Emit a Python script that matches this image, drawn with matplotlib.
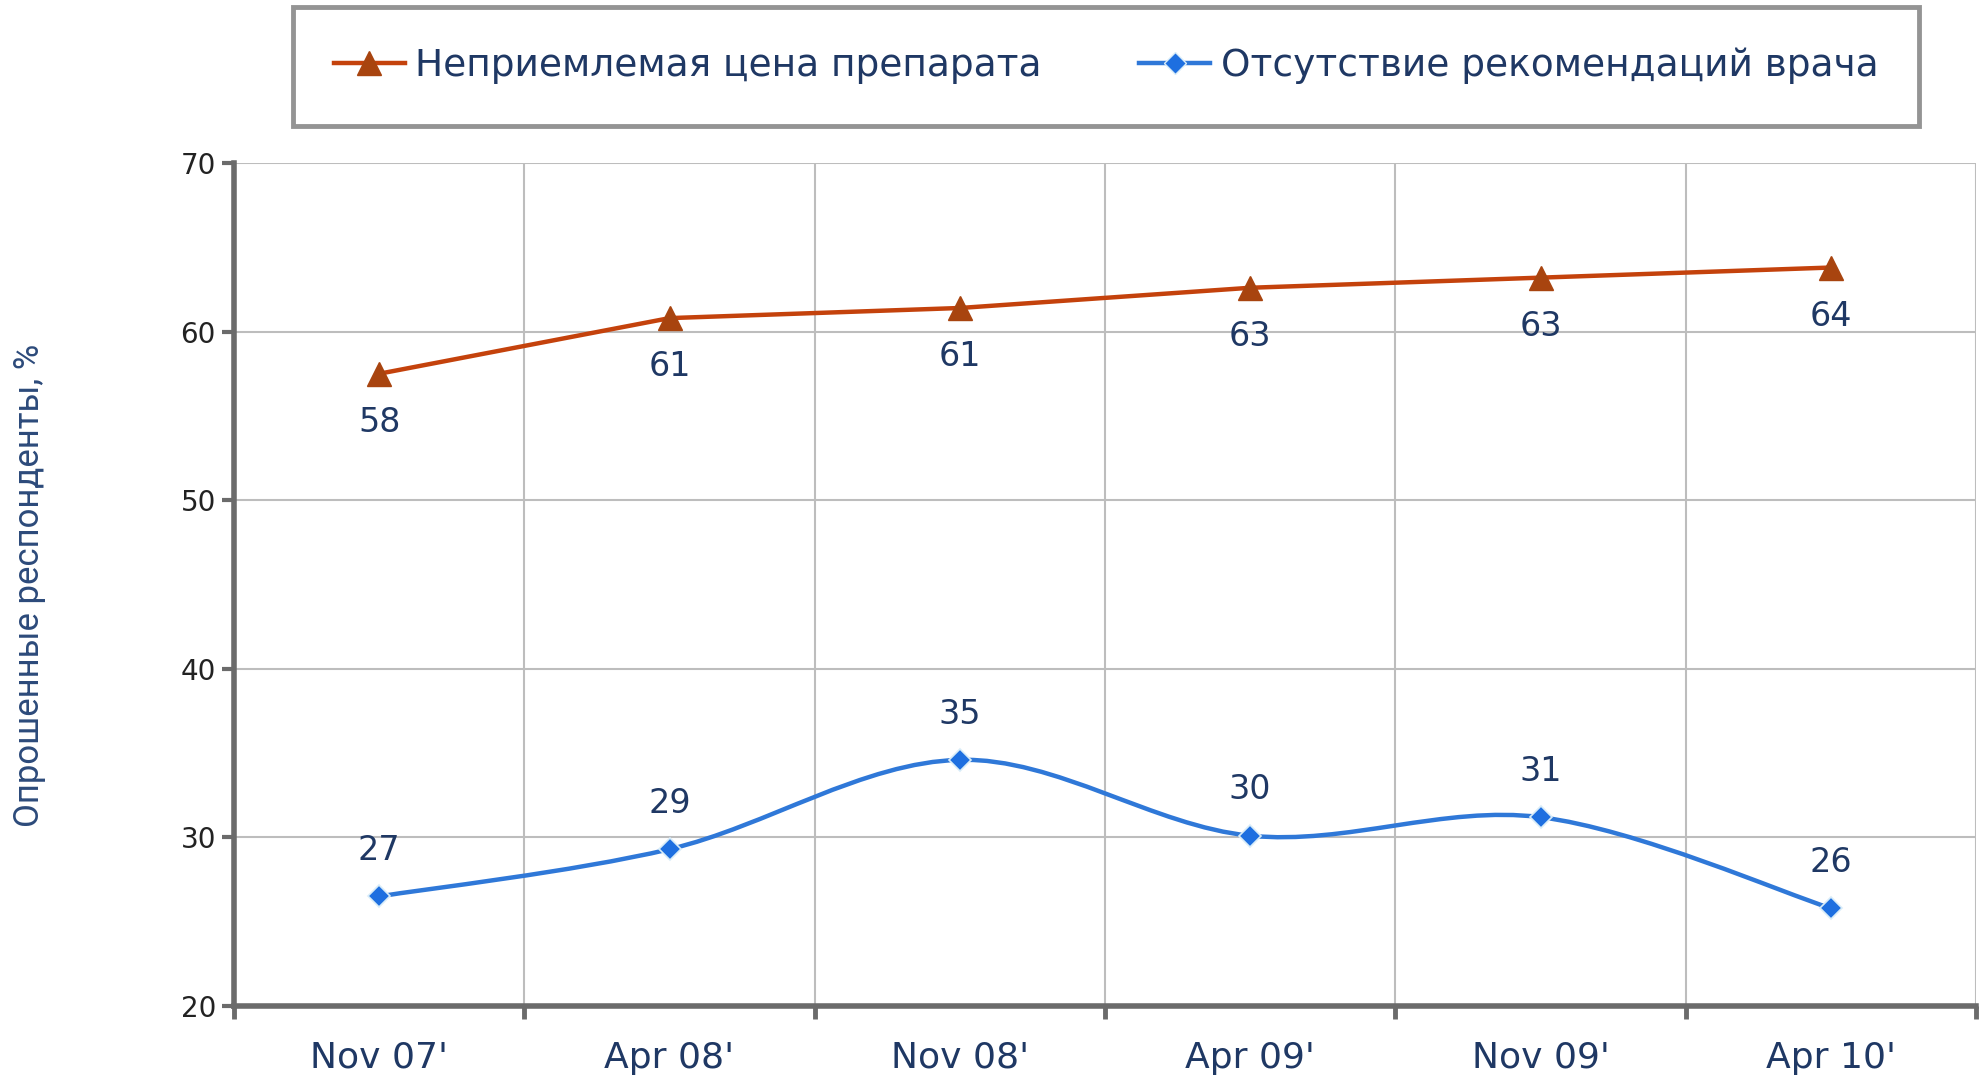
import matplotlib
matplotlib.use("Agg")
import matplotlib.pyplot as plt
from matplotlib.path import Path
from matplotlib.patches import PathPatch
from matplotlib.lines import Line2D
import numpy as np

categories = ["Nov 07'", "Apr 08'", "Nov 08'", "Apr 09'", "Nov 09'", "Apr 10'"]
price_values = [57.5, 60.8, 61.4, 62.6, 63.2, 63.8]
price_labels = ["58", "61", "61", "63", "63", "64"]
doctor_values = [26.5, 29.3, 34.6, 30.1, 31.2, 25.8]
doctor_labels = ["27", "29", "35", "30", "31", "26"]
series_names = ["Неприемлемая цена препарата", "Отсутствие рекомендаций врача"]
y_ticks = [20, 30, 40, 50, 60, 70]
y_label = "Опрошенные респонденты, %"

RED = "#C4420C"
RED_M = "#A8440F"
BLUE = "#2F78D8"
BLUE_M = "#1E6FE0"
NAVY = "#1F3864"
GRID = "#BDBDBD"
SPINE = "#6B6B6B"

plt.rcParams['font.family'] = ['DejaVu Sans']

fig = plt.figure(figsize=(19.84, 10.81), dpi=100)
ax = fig.add_axes([234/1984, 1-1006/1081, (1976-234)/1984, (1006-163)/1081])

x = np.arange(len(categories))

# red straight line
ax.plot(x, price_values, color=RED, lw=3.2, marker='^', markersize=17,
        markerfacecolor=RED_M, markeredgecolor=RED_M, zorder=4, clip_on=False)

# blue smoothed line (bezier through data points)
pts = np.column_stack([x, doctor_values]).astype(float)
verts = [tuple(pts[0])]
codes = [Path.MOVETO]
n = len(pts)
for i in range(n - 1):
    p0 = pts[i - 1] if i > 0 else pts[i]
    p1 = pts[i]
    p2 = pts[i + 1]
    p3 = pts[i + 2] if i + 2 < n else pts[i + 1]
    c1 = p1 + (p2 - p0) / 6.0
    c2 = p2 - (p3 - p1) / 6.0
    verts += [tuple(c1), tuple(c2), tuple(p2)]
    codes += [Path.CURVE4] * 3
ax.add_patch(PathPatch(Path(verts, codes), facecolor='none', edgecolor=BLUE,
                       lw=3.2, zorder=3))
ax.plot(x, doctor_values, linestyle='none', marker='D', markersize=11,
        markerfacecolor=BLUE_M, markeredgecolor='#D8ECF8', markeredgewidth=1.2,
        zorder=5)

# data labels
for xi, v, t in zip(x, price_values, price_labels):
    ax.annotate(t, (xi, v), xytext=(0, -35), textcoords='offset points',
                ha='center', va='center', fontsize=24, color=NAVY, zorder=6)
for xi, v, t in zip(x, doctor_values, doctor_labels):
    ax.annotate(t, (xi, v), xytext=(0, 33), textcoords='offset points',
                ha='center', va='center', fontsize=24, color=NAVY, zorder=6)

ax.set_xlim(-0.5, len(categories) - 0.5)
ax.set_ylim(y_ticks[0], y_ticks[-1])
ax.set_yticks(y_ticks)
ax.set_yticklabels([str(t) for t in y_ticks], fontsize=20, color='#222222')
ax.set_xticks(x)
ax.set_xticklabels(categories, fontsize=26, color=NAVY)
ax.set_xticks(np.arange(-0.5, len(categories)), minor=True)
ax.tick_params(axis='x', which='major', length=0, pad=25)
ax.tick_params(axis='x', which='minor', length=9, width=3.5, color=SPINE,
               direction='out')
ax.tick_params(axis='y', which='major', length=9, width=3, color=SPINE,
               direction='out', pad=4)

ax.grid(True, axis='y', which='major', color=GRID, lw=1.5)
ax.grid(True, axis='x', which='minor', color=GRID, lw=1.5)
ax.grid(False, axis='x', which='major')
ax.set_axisbelow(True)

for s in ['top', 'right']:
    ax.spines[s].set_visible(False)
for s in ['left', 'bottom']:
    ax.spines[s].set_color(SPINE)
    ax.spines[s].set_linewidth(4)

fig.text(30/1984, 1-585/1081, y_label, rotation=90, ha='center', va='center',
         fontsize=25, color='#2C4A7A', family='Roboto')

handles = [
    Line2D([], [], color=RED, lw=3.2, marker='^', markersize=17,
           markerfacecolor=RED_M, markeredgecolor=RED_M),
    Line2D([], [], color=BLUE, lw=3.2, marker='D', markersize=11,
           markerfacecolor=BLUE_M, markeredgecolor='#D8ECF8'),
]
leg = fig.legend(handles, series_names, loc='center', ncol=2,
                 bbox_to_anchor=(1106/1984, 1-66/1081),
                 fontsize=27, frameon=True, fancybox=False, edgecolor='#7A7A7A',
                 handlelength=1.9, handletextpad=0.27, columnspacing=2.6,
                 borderpad=1.1, borderaxespad=0, labelcolor=NAVY)
leg.get_frame().set_linewidth(3.5)

fig.savefig("out.png", dpi=100)
